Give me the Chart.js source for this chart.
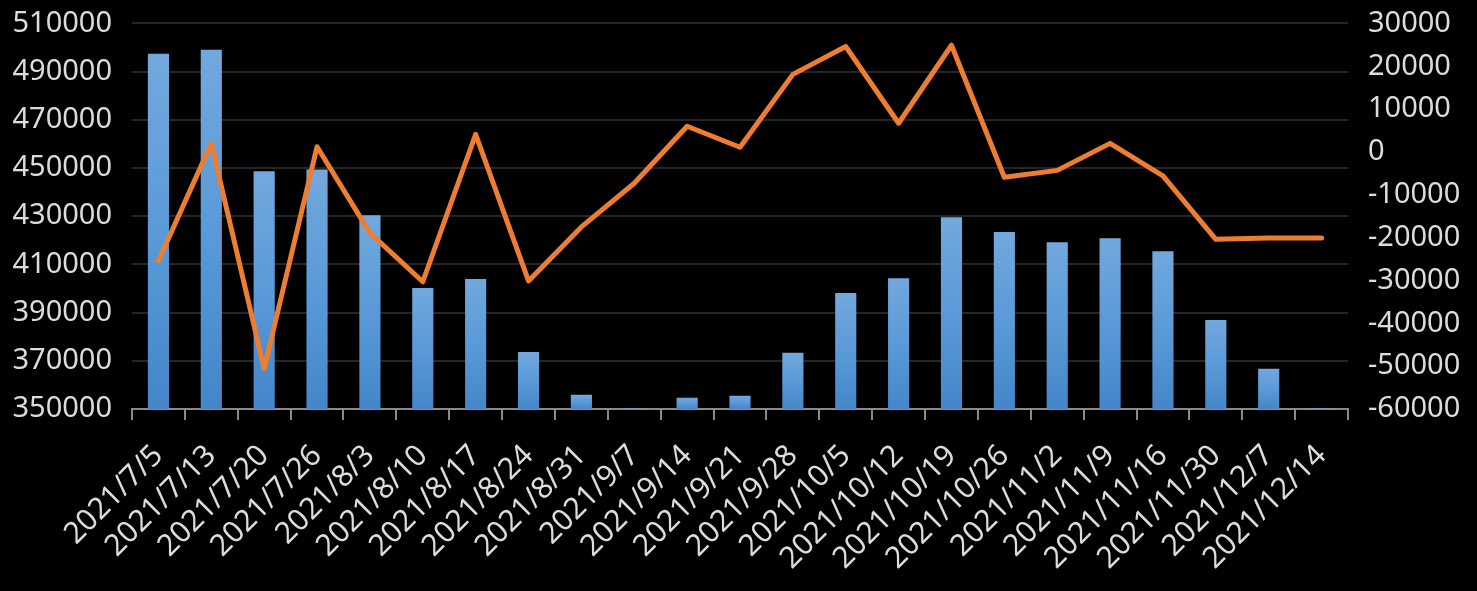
<!DOCTYPE html>
<html>
<head>
<meta charset="utf-8">
<script src="https://cdn.jsdelivr.net/npm/chart.js@4.4.0/dist/chart.umd.min.js"></script>
<style>
  html, body { margin: 0; padding: 0; background: #000; overflow: hidden; }
  #wrap { width: 1477px; height: 605px; margin-top: -14px; }
</style>
</head>
<body>
<div id="wrap"><canvas id="mainChart"></canvas></div>
<script>
const dates = ['2021/7/5', '2021/7/13', '2021/7/20', '2021/7/26', '2021/8/3', '2021/8/10', '2021/8/17', '2021/8/24',
  '2021/8/31', '2021/9/7', '2021/9/14', '2021/9/21', '2021/9/28', '2021/10/5', '2021/10/12', '2021/10/19',
  '2021/10/26', '2021/11/2', '2021/11/9', '2021/11/16', '2021/11/30', '2021/12/7', '2021/12/14'];

// bars, left axis
const totals = [497400, 499100, 448600, 449400, 430400, 400200, 403900, 373700,
  355900, 350200, 354700, 355500, 373300, 398100, 404300, 429600,
  423400, 419200, 420900, 415500, 386900, 366700, 350200];

// line, right axis
const changes = [-25400, 2000, -50600, 1200, -18900, -30300, 4100, -30100,
  -17500, -7300, 6000, 1100, 18100, 24600, 6700, 24900,
  -5900, -4300, 2000, -5600, -20400, -20100, -20100];

const leftMin = 350000, leftMax = 510000, leftStep = 20000;
const rightMin = -60000, rightMax = 30000, rightStep = 10000;

const txt = '#dcdcdc';
const fam = "'Noto Sans', 'DejaVu Sans', sans-serif";
const yFont = { family: fam, size: 29 };
const xFont = { family: fam, size: 30 };

// light-to-dark gradient on each bar, like the office chart
function barFill(ctx) {
  const chart = ctx.chart;
  const y = chart.scales.y;
  if (!y || ctx.raw == null) return '#5b9bd5';
  const top = y.getPixelForValue(ctx.raw);
  const bottom = y.getPixelForValue(leftMin);
  if (!isFinite(top) || !isFinite(bottom) || bottom - top < 1) return '#6ea6dc';
  const g = chart.ctx.createLinearGradient(0, top, 0, bottom);
  g.addColorStop(0, '#72a8dd');
  g.addColorStop(0.5, '#5a9ad8');
  g.addColorStop(1, '#4486c8');
  return g;
}

Chart.defaults.animation = false;

new Chart(document.getElementById('mainChart').getContext('2d'), {
  data: {
    labels: dates,
    datasets: [
      {
        type: 'line',
        data: changes,
        yAxisID: 'y1',
        borderColor: '#ed7d31',
        borderWidth: 5,
        borderCapStyle: 'round',
        borderJoinStyle: 'round',
        pointRadius: 0,
        tension: 0,
        order: 0
      },
      {
        type: 'bar',
        data: totals,
        yAxisID: 'y',
        backgroundColor: barFill,
        categoryPercentage: 1,
        barPercentage: 0.4,
        order: 1
      }
    ]
  },
  options: {
    responsive: true,
    maintainAspectRatio: false,
    layout: { padding: { top: 9, bottom: 0, left: 0, right: 0 } },
    plugins: { legend: { display: false }, tooltip: { enabled: false } },
    scales: {
      x: {
        offset: true,
        grid: { offset: true, drawOnChartArea: false, drawTicks: true, tickLength: 11, color: '#8a8a8a', lineWidth: 2 },
        border: { color: '#8a8a8a', width: 2 },
        ticks: { color: txt, font: xFont, minRotation: 45, maxRotation: 45, autoSkip: false, padding: 18 },
        afterFit: s => { s.height = 182; }
      },
      y: {
        position: 'left',
        min: leftMin,
        max: leftMax,
        ticks: { stepSize: leftStep, color: txt, font: yFont, padding: 20, callback: v => String(v) },
        grid: { color: '#262626', lineWidth: 2, drawTicks: false },
        border: { display: false },
        afterFit: s => { s.width = 132; }
      },
      y1: {
        position: 'right',
        min: rightMin,
        max: rightMax,
        ticks: { stepSize: rightStep, color: txt, font: yFont, padding: 20, callback: v => String(v) },
        grid: { drawOnChartArea: false, drawTicks: false },
        border: { display: false },
        afterFit: s => { s.width = 1477 - 1348; }
      }
    }
  }
});
</script>
</body>
</html>
